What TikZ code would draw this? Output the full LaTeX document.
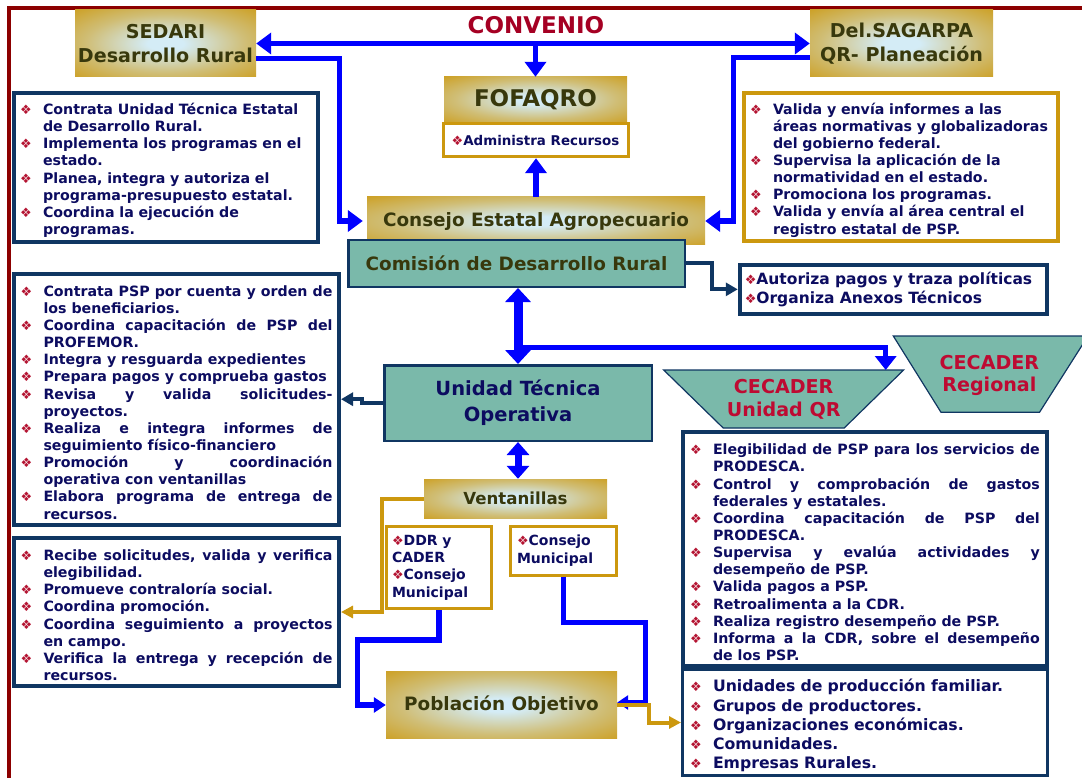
\documentclass[tikz,border=0pt]{standalone}
\usepackage{fontspec}
\setmainfont{DejaVu Sans}
\newfontfamily\bulletfont{DejaVu Sans}
\usetikzlibrary{arrows.meta, positioning}

\definecolor{bordred}{RGB}{140,0,0}
\definecolor{convred}{RGB}{165,0,35}
\definecolor{cecred}{RGB}{190,10,50}
\definecolor{bulred}{RGB}{180,20,50}
\definecolor{goldc}{RGB}{204,152,14}
\definecolor{glowblue}{RGB}{212,236,246}
\definecolor{tealc}{RGB}{122,185,170}
\definecolor{navyc}{RGB}{16,54,98}
\definecolor{txtnavy}{RGB}{12,12,96}
\definecolor{headolive}{RGB}{56,56,12}
\definecolor{linkblue}{RGB}{0,0,255}

\pgfdeclareradialshading{goldglow}{\pgfpoint{0bp}{0bp}}{color(0bp)=(glowblue); color(5bp)=(glowblue); color(22bp)=(glowblue!45!goldc); color(40bp)=(goldc); color(50bp)=(goldc); color(75bp)=(goldc)}

\hyphenpenalty=10000
\exhyphenpenalty=10000
\tolerance=9999
\hbadness=10000

\newlength\itmind
\setlength\itmind{23pt}
\newcommand{\bul}{{\bulletfont\mdseries\fontsize{13}{13}\selectfont\textcolor{bulred}{❖}}}
\newcommand{\itm}{\par\hangindent=\itmind\hangafter=1\noindent\makebox[\itmind][l]{\bul}}

\tikzset{
>={Triangle[width=21pt,length=15pt]}, % heads of the blue arrows
goldbox/.style={shade, shading=goldglow, inner sep=0pt, align=center, text=headolive, font=\fontsize{18.4}{24}\selectfont\bfseries}, % gold boxes with a light centre
tealbox/.style={draw=navyc, line width=2.5pt, fill=tealc, inner sep=0pt, align=center, text=headolive, font=\fontsize{18.4}{24}\selectfont\bfseries},
listbox/.style={draw=navyc, line width=4pt, fill=white, inner xsep=6.5pt, inner ysep=0pt, text=txtnavy, font=\fontsize{14.2}{17.15}\selectfont\bfseries, align=justify}, % boxes with the bullet lists
raggedlist/.style={listbox, align=left},
goldlist/.style={raggedlist, draw=goldc},
smallbox/.style={draw=goldc, line width=3pt, fill=white, inner xsep=5.5pt, inner ysep=0pt, align=left, text=txtnavy, font=\fontsize{14}{17.4}\selectfont\bfseries},
cecatext/.style={text=cecred, align=center, font=\fontsize{19.1}{22.5}\selectfont\bfseries},
trapfill/.style={draw=navyc, line width=1.2pt, fill=tealc},
bluelink/.style={draw=linkblue, line width=5.3pt, line join=miter},
navylink/.style={draw=navyc, line width=4pt, line join=miter, -{Triangle[width=13pt,length=12pt]}},
goldlink/.style={draw=goldc, line width=4pt, line join=miter, -{Triangle[width=12pt,length=12pt]}},
}

\begin{document}
\begin{tikzpicture}[x=1pt, y=-1pt]
\useasboundingbox (0,0) rectangle (1082,778);
\draw[bordred, line width=3.6pt] (9.2,778) -- (9.2,8.3) -- (1082,8.3);

\node[text=convred, font=\fontsize{23}{23}\selectfont\bfseries] (convenio) at (536,25) {CONVENIO};
\node[goldbox, font=\fontsize{19.1}{24}\selectfont\bfseries, minimum width=181pt, minimum height=67pt] (sedari) at (165.5,43.5) {SEDARI\\Desarrollo Rural};
\node[goldbox, font=\fontsize{19.1}{24}\selectfont\bfseries, minimum width=183pt, minimum height=67pt] (sagarpa) at (901.5,43.5) {Del.SAGARPA\\QR- Planeación};
\node[goldbox, font=\fontsize{23}{23}\selectfont\bfseries, minimum width=183pt, minimum height=45pt] (fofaqro) at (535.5,99.5) {FOFAQRO};
\node[draw=goldc, line width=3pt, fill=white, inner sep=0pt, minimum width=185pt, minimum height=33pt, text=txtnavy, font=\fontsize{13.4}{16}\selectfont\bfseries, below=0pt of fofaqro] (admin) {\bul Administra Recursos};
\node[goldbox, minimum width=338pt, minimum height=48pt] (consejo) at (536,221) {Consejo Estatal Agropecuario};
\node[tealbox, minimum width=336.5pt, minimum height=46.5pt] (cdr) at (516.5,263.5) {Comisión de Desarrollo Rural};

\node[raggedlist, text width=291.5pt, minimum height=149pt] (sedarilist) at (165.75,167.5) {
\itm Contrata Unidad Técnica Estatal\newline de Desarrollo Rural.
\itm Implementa los programas en el\newline estado.
\itm Planea, integra y autoriza el\newline programa-presupuesto estatal.
\itm Coordina la ejecución de\newline programas.\par};
\node[goldlist, text width=301.5pt, minimum height=148pt] (sagarpalist) at (900.75,167) {
\itm Valida y envía informes a las\newline áreas normativas y globalizadoras\newline del gobierno federal.
\itm Supervisa la aplicación de la\newline normatividad en el estado.
\itm Promociona los programas.
\itm Valida y envía al área central el\newline registro estatal de PSP.\par};
\node[raggedlist, inner xsep=5pt, text width=297pt, minimum height=49.3pt, font=\fontsize{15.5}{19.3}\selectfont\bfseries] (autoriza) at (893.25,289.35) {\bul Autoriza pagos y traza políticas\newline\bul Organiza Anexos Técnicos};

\node[tealbox, text=txtnavy, font=\fontsize{19.5}{26}\selectfont\bfseries, minimum width=267.5pt, minimum height=75.5pt] (uto) at (518,403) {Unidad Técnica\\Operativa};
\node[listbox, text width=312pt, minimum height=251pt] (utolist) at (176.5,399.2) {
\itm Contrata PSP por cuenta y orden de\linebreak los beneficiarios.
\itm Coordina capacitación de PSP del\linebreak PROFEMOR.
\itm Integra y resguarda expedientes
\itm Prepara pagos y comprueba gastos
\itm Revisa y valida solicitudes-\linebreak proyectos.
\itm Realiza e integra informes de\linebreak seguimiento físico-financiero
\itm Promoción y coordinación\linebreak operativa con ventanillas
\itm Elabora programa de entrega de\linebreak recursos.\par};

\filldraw[trapfill] (893.3,336) -- (1088,336) -- (1039.5,412.3) -- (941,412.3) -- cycle;
\node[cecatext] (cecareg) at (989.4,375.5) {CECADER\\Regional};
\filldraw[trapfill] (663.7,370) -- (903.6,370) -- (844.2,428) -- (723.2,428) -- cycle;
\node[cecatext] (cecaqr) at (783.7,399.5) {CECADER\\Unidad QR};

\node[goldbox, font=\fontsize{16.6}{20}\selectfont\bfseries, minimum width=183pt, minimum height=39pt] (vent) at (515.5,498.5) {Ventanillas};
\node[smallbox, text width=94pt, minimum height=82pt] (ddr) at (439,567.5) {\bul DDR y\newline CADER\newline\bul Consejo\newline Municipal};
\node[smallbox, inner xsep=6.5pt, text width=93pt, minimum height=48.5pt] (cmun) at (563.5,550.75) {\bul Consejo\newline Municipal};
\node[listbox, text width=312pt, minimum height=148.6pt] (ventlist) at (176.5,612) {
\itm Recibe solicitudes, valida y verifica\linebreak elegibilidad.
\itm Promueve contraloría social.
\itm Coordina promoción.
\itm Coordina seguimiento a proyectos\linebreak en campo.
\itm Verifica la entrega y recepción de\linebreak recursos.\par};
\node[goldbox, minimum width=231pt, minimum height=66.6pt] (pob) at (501.5,705) {Población Objetivo};

\node[listbox, inner xsep=7pt, text width=349.8pt, minimum height=234.3pt] (cecalist) at (864.9,549.15) {
\itm Elegibilidad de PSP para los servicios de\linebreak PRODESCA.
\itm Control y comprobación de gastos\linebreak federales y estatales.
\itm Coordina capacitación de PSP del\linebreak PRODESCA.
\itm Supervisa y evalúa actividades y\linebreak desempeño de PSP.
\itm Valida pagos a PSP.
\itm Retroalimenta a la CDR.
\itm Realiza registro desempeño de PSP.
\itm Informa a la CDR, sobre el desempeño\linebreak de los PSP.\par};
\node[raggedlist, line width=3pt, inner xsep=7.5pt, text width=349.8pt, minimum height=105.4pt, font=\fontsize{15.7}{19.25}\selectfont\bfseries] (publist) at (864.9,722.5) {
\itm Unidades de producción familiar.
\itm Grupos de productores.
\itm Organizaciones económicas.
\itm Comunidades.
\itm Empresas Rurales.\par};

\draw[bluelink, <->] (sedari) -- (sagarpa);
\draw[bluelink, ->] (fofaqro.north |- sedari.east) -- (fofaqro.north);
\draw[bluelink, ->] ([yshift=-15pt]sedari.east) -| ([xshift=-27pt]consejo.west) -- ([xshift=-4pt]consejo.west);
\draw[bluelink, ->] ([yshift=-14pt]sagarpa.west) -| ([xshift=28pt]consejo.east) -- (consejo.east);
\draw[bluelink, ->] (consejo.north) -- (consejo.north |- admin.south);
\draw[navylink] (cdr.east) -| ([xshift=-26pt]autoriza.west) -- (autoriza.west);
\draw[bluelink, line width=9pt, {Triangle[width=25pt,length=14pt]}-{Triangle[width=25pt,length=14pt]}] (uto.north |- cdr.south) -- (uto.north);
\coordinate (split) at (518,347.3);
\coordinate (qrtop) at (885.7,370);
\draw[bluelink, line width=5.5pt, -{Triangle[width=21pt,length=14pt]}] (split) -| (qrtop);
\draw[navylink] (uto.west) -- ++(-21.4,0) |- (utolist.east);
\draw[bluelink, line width=7pt, {Triangle[width=22pt,length=13pt]}-{Triangle[width=22pt,length=13pt]}] (uto.south) -- (uto.south |- vent.north);
\draw[goldlink] (vent.west) -| ([xshift=40.5pt]ventlist.east) -- (ventlist.east);
\draw[bluelink, -{Triangle[width=15pt,length=12pt]}] (ddr.south) -- ++(0,30) -| ([xshift=-28pt]pob.west) -- (pob.west);
\draw[bluelink, -{Triangle[width=14pt,length=11pt]}] (cmun.south) -- ++(0,46) -| ([xshift=28.5pt,yshift=2.5pt]pob.east) -- ([yshift=2.5pt]pob.east);
\draw[goldlink] (pob.east) -- ++(32,0) |- (publist.west);
\end{tikzpicture}
\end{document}
